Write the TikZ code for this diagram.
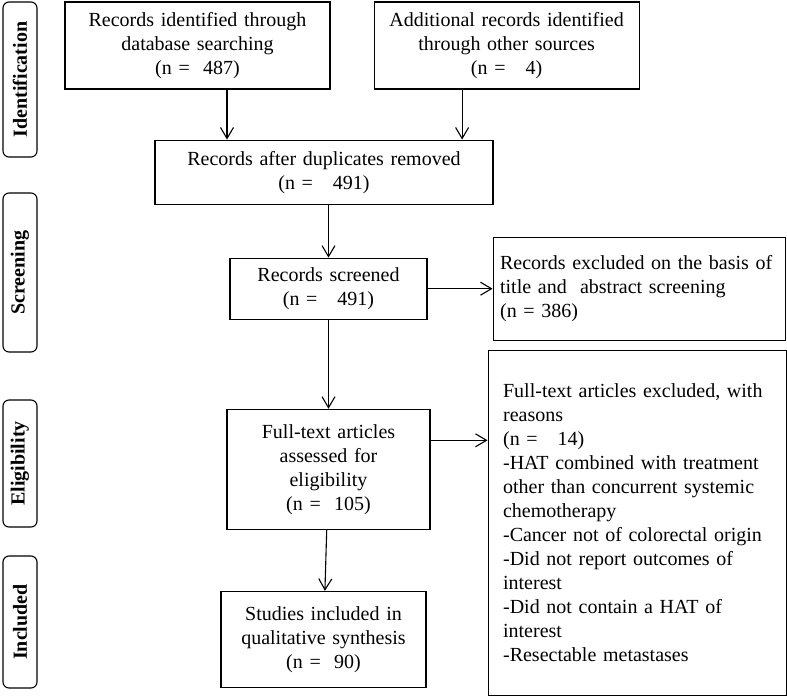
\documentclass[tikz,border=0pt]{standalone}
\usepackage{fontspec}
\setmainfont{Liberation Serif}
\usetikzlibrary{positioning,arrows.meta}

\tikzset{
  box/.style={draw, line width=1.1bp, align=center, inner sep=0pt,
    font=\fontsize{20bp}{24bp}\selectfont},
  sidebox/.style={draw, rounded corners=6bp, line width=1.1bp, rotate=90,
    minimum height=34bp, inner sep=0pt, font=\fontsize{20bp}{24bp}\selectfont\bfseries},
  arr/.style={line width=1.1bp, -{Straight Barb[length=11bp,width=13bp]}}
}

\begin{document}
\begin{tikzpicture}
\useasboundingbox (0,0) rectangle (787bp,-697bp);

% phases
\node[sidebox, minimum width=155bp] (idlab) at (20bp,-79.5bp) {Identification};
\node[sidebox, minimum width=159bp] (scrlab) at (20bp,-272.5bp) {Screening};
\node[sidebox, minimum width=127bp] (eliglab) at (20bp,-463.5bp) {Eligibility};
\node[sidebox, minimum width=132bp] (incllab) at (20bp,-622bp) {Included};

% flow boxes
\node[box, text width=265bp, minimum height=87bp] (db) at (197.5bp,-45.5bp)
  {Records identified through\\database searching\\(n =\ \ 487)};
\node[box, text width=265bp, minimum height=87bp] (other)[right=43bp of db]
  {Additional records identified\\through other sources\\(n =\ \ \ 4)};
\node[box, text width=338bp, minimum height=64bp] (dup)[below right=50bp and 90bp of db.south west]
  {Records after duplicates removed\\(n =\ \ \ 491)};
\node[box, text width=197bp, minimum height=61bp] (screen)[below=53bp of dup, xshift=4.5bp]
  {Records screened\\(n =\ \ \ 491)};
\node[box, align=left, inner xsep=7bp, text width=278bp, minimum height=103bp] (exabs)[right=65bp of screen]
  {Records excluded on the basis of\\title and\ \ abstract screening\\(n = 386)};
\node[box, text width=203bp, minimum height=120bp] (assess)[below=89bp of screen]
  {Full-text articles\\assessed for\\eligibility\\(n =\ \ 105)};
\node[box, align=left, inner xsep=15bp, text width=268bp, minimum height=345bp] (exfull)[below right=9bp and -5bp of exabs.south west]
  {Full-text articles excluded, with\\reasons\\(n =\ \ \ 14)\\-HAT combined with treatment\\other than concurrent systemic\\chemotherapy\\-Cancer not of colorectal origin\\-Did not report outcomes of\\interest\\-Did not contain a HAT of\\interest\\-Resectable metastases};
\node[box, text width=205bp, minimum height=96bp] (incl)[below=61bp of assess, xshift=-5bp]
  {Studies included in\\qualitative synthesis\\(n =\ \ 90)};

\path[arr]
  ([xshift=29.5bp]db.south) edge ([xshift=29.5bp]db.south |- dup.north)
  ([xshift=-44.5bp]other.south) edge ([xshift=-44.5bp]other.south |- dup.north)
  (screen.north |- dup.south) edge (screen.north)
  (screen) edge (exabs)
  (screen) edge (assess)
  ([yshift=29bp]assess.east) edge ([yshift=29bp]assess.east -| exfull.west)
  (assess) edge (incl)
;
\end{tikzpicture}
\end{document}
